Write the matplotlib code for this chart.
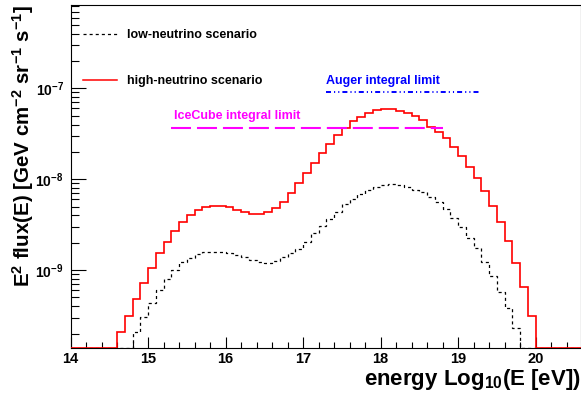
import numpy as np
import matplotlib
matplotlib.use('Agg')
import matplotlib.pyplot as plt
from matplotlib.ticker import MultipleLocator, FixedLocator, LogLocator, LogFormatterSciNotation, NullFormatter
from matplotlib.lines import Line2D

# ---------------- data ----------------
bin_edges = np.round(np.arange(14.0, 20.65, 0.1), 1)   # 66 bins of 0.1 in log10(E/eV)

high_nu = [0, 0, 0, 0, 0, 0,
           2.09e-10, 3.14e-10, 4.80e-10, 7.14e-10, 1.06e-9, 1.55e-9, 2.05e-9, 2.71e-9, 3.40e-9, 4.03e-9,
           4.57e-9, 4.97e-9, 5.10e-9, 5.10e-9, 4.90e-9, 4.61e-9, 4.35e-9, 4.17e-9, 4.17e-9, 4.32e-9,
           4.78e-9, 5.65e-9, 7.10e-9, 9.00e-9, 1.18e-8, 1.52e-8, 1.95e-8, 2.45e-8, 3.06e-8, 3.68e-8,
           4.36e-8, 4.87e-8, 5.30e-8, 5.72e-8, 5.87e-8, 5.87e-8, 5.66e-8, 5.38e-8, 4.95e-8, 4.44e-8,
           3.80e-8, 3.33e-8, 2.82e-8, 2.28e-8, 1.80e-8, 1.38e-8, 1.04e-8, 7.46e-9, 5.10e-9, 3.40e-9,
           2.09e-9, 1.20e-9, 6.45e-10, 3.14e-10,
           0, 0, 0, 0, 0, 0]

low_nu = [0, 0, 0, 0, 0, 0, 0, 0,
          2.06e-10, 3.06e-10, 4.37e-10, 6.07e-10, 8.02e-10, 1.00e-9, 1.22e-9, 1.36e-9, 1.50e-9, 1.58e-9,
          1.59e-9, 1.59e-9, 1.55e-9, 1.46e-9, 1.40e-9, 1.29e-9, 1.22e-9, 1.20e-9, 1.26e-9, 1.38e-9,
          1.53e-9, 1.69e-9, 2.05e-9, 2.54e-9, 3.05e-9, 3.61e-9, 4.38e-9, 5.29e-9, 6.05e-9, 6.81e-9,
          7.60e-9, 8.13e-9, 8.62e-9, 8.78e-9, 8.62e-9, 8.26e-9, 7.60e-9, 7.16e-9, 6.41e-9, 5.65e-9,
          4.66e-9, 3.73e-9, 2.95e-9, 2.27e-9, 1.73e-9, 1.23e-9, 8.65e-10, 5.77e-10, 3.79e-10, 2.28e-10,
          0, 0, 0, 0, 0, 0, 0, 0]

auger_limit = 9.2e-8
auger_range = [17.3, 19.3]
icecube_limit = 3.66e-8
icecube_range = [15.3, 18.8]

xlim = (14.0, 20.58)
ylim = (1.40e-10, 8.26e-7)

# ---------------- style ----------------
plt.rcParams['font.family'] = ['Liberation Sans', 'DejaVu Sans']
plt.rcParams['font.weight'] = 'bold'
plt.rcParams['mathtext.fontset'] = 'custom'
plt.rcParams['mathtext.rm'] = 'Liberation Sans:bold'
plt.rcParams['mathtext.it'] = 'Liberation Sans:bold'
plt.rcParams['mathtext.bf'] = 'Liberation Sans:bold'
plt.rcParams['mathtext.default'] = 'regular'
plt.rcParams['lines.scale_dashes'] = False

fig = plt.figure(figsize=(5.81, 4.04), dpi=100)
W, H = 581, 404
left, right, top, bottom = 70.7, 580.5, 5.0, 347.7
ax = fig.add_axes([left / W, 1 - bottom / H, (right - left) / W, (bottom - top) / H])

hi = np.clip(np.array(high_nu, dtype=float), ylim[0], None)
lo = np.clip(np.array(low_nu, dtype=float), ylim[0], None)

ax.stairs(lo, bin_edges, baseline=None, color='black', linewidth=0.9,
          linestyle=(0, (2.2, 2.2)), zorder=2)
ax.stairs(hi, bin_edges, baseline=None, color='red', linewidth=1.2, zorder=3)

ax.hlines(icecube_limit, icecube_range[0], icecube_range[1], colors='#ff00ff',
          linewidth=1.5, linestyles=[(0, (14.4, 4.3))], zorder=4)
ax.hlines(auger_limit, auger_range[0], auger_range[1], colors='#0000ff',
          linewidth=1.4, linestyles=[(0, (3.6, 2.2, 0.8, 2.2, 0.8, 2.2))], zorder=4)

ax.text(15.335, 4.9e-8, 'IceCube integral limit', color='#ff00ff', fontsize=9,
        fontweight='bold', ha='left', va='center')
ax.text(17.29, 1.2e-7, 'Auger integral limit', color='#0000ff', fontsize=9,
        fontweight='bold', ha='left', va='center')

ax.set_yscale('log')
ax.set_xlim(*xlim)
ax.set_ylim(*ylim)

ax.xaxis.set_major_locator(FixedLocator([14, 15, 16, 17, 18, 19, 20]))
ax.xaxis.set_minor_locator(MultipleLocator(0.2))
ax.yaxis.set_major_locator(LogLocator(base=10))
ax.yaxis.set_minor_locator(LogLocator(base=10, subs=np.arange(2, 10)))
ax.yaxis.set_major_formatter(LogFormatterSciNotation())
ax.yaxis.set_minor_formatter(NullFormatter())

ax.tick_params(axis='x', which='major', direction='in', length=7.9, width=0.8, pad=3.2,
               labelsize=10.5, top=False)
ax.tick_params(axis='x', which='minor', direction='in', length=4.3, width=0.8, top=False)
ax.tick_params(axis='y', which='major', direction='in', length=10.8, width=0.8, pad=5.0,
               labelsize=10, right=False)
ax.tick_params(axis='y', which='minor', direction='in', length=5.5, width=0.8, right=False)
for lab in ax.get_xticklabels() + ax.get_yticklabels():
    lab.set_fontweight('bold')

for s in ax.spines.values():
    s.set_linewidth(0.8)

ax.set_xlabel(r'energy Log$_{10}$(E [eV])', fontsize=16, fontweight='bold', loc='right')
ax.xaxis.label.set_va('baseline')
ax.xaxis.set_label_coords(1.0, -(385.5 - bottom) / (bottom - top))
ax.set_ylabel(r'E$^{2}$ flux(E) [GeV cm$^{-2}$ sr$^{-1}$ s$^{-1}$]', fontsize=14.8,
              fontweight='bold', loc='top')
ax.yaxis.label.set_va('baseline')
ax.yaxis.set_label_coords((30.0 - left) / (right - left), 1.0)

handles = [Line2D([], [], color='black', linewidth=0.9, linestyle=(0, (2.2, 2.2))),
           Line2D([], [], color='red', linewidth=1.1)]
leg = ax.legend(handles, ['low-neutrino scenario', 'high-neutrino scenario'],
                loc='upper left', bbox_to_anchor=(83 / W, 1 - 29 / H),
                bbox_transform=fig.transFigure, frameon=False,
                handlelength=2.75, handletextpad=0.75, labelspacing=2.75,
                borderpad=0, borderaxespad=0, prop={'weight': 'bold', 'size': 9})

fig.savefig('out.png', dpi=100)
